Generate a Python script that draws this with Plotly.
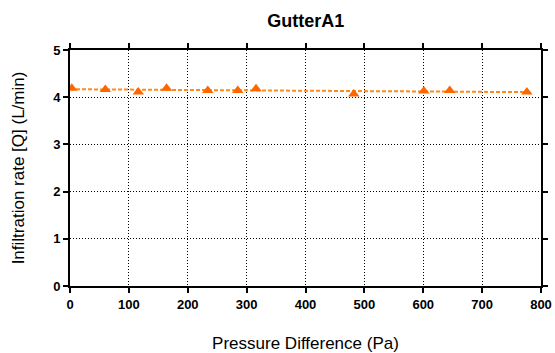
import numpy as np
import plotly.graph_objects as go

pressure = [3, 60, 116, 164, 234, 285, 316, 482, 601, 645, 776]
flow = [4.19, 4.165, 4.11, 4.19, 4.14, 4.14, 4.18, 4.07, 4.13, 4.14, 4.11]

x_ticks = [0, 100, 200, 300, 400, 500, 600, 700, 800]
y_ticks = [0, 1, 2, 3, 4, 5]

slope, intercept = np.polyfit(pressure, flow, 1)
fit_x = [0, max(pressure)]
fit_y = [intercept + slope * v for v in fit_x]

fig = go.Figure()
fig.add_trace(go.Scatter(x=fit_x, y=fit_y, mode="lines",
                         line=dict(color="#FF8C1A", width=2, dash="4px,2px"),
                         showlegend=False, hoverinfo="skip"))
fig.add_trace(go.Scatter(x=pressure, y=flow, mode="markers",
                         marker=dict(symbol="triangle-up", size=10, color="#FF6600"),
                         showlegend=False))

axis_common = dict(showline=True, linecolor="black", linewidth=2, mirror="allticks",
                   ticks="outside", ticklen=5, tickwidth=2, tickcolor="black",
                   showgrid=True, gridcolor="black", griddash="1px,2px", gridwidth=1,
                   zeroline=False, automargin=False,
                   tickfont=dict(family="Liberation Sans", size=13, color="black", weight="bold"))

fig.update_xaxes(range=[0, 800], tickvals=x_ticks, ticktext=[str(v) for v in x_ticks],
                 title=dict(text="Pressure Difference (Pa)", standoff=29,
                            font=dict(family="Liberation Sans", size=17, color="black")),
                 **axis_common)
fig.update_yaxes(range=[0, 5], tickvals=y_ticks, ticktext=[str(v) for v in y_ticks],
                 title=dict(text="Infiltration rate [Q] (L/min)", standoff=24,
                            font=dict(family="Liberation Sans", size=17, color="black")),
                 **axis_common)

fig.update_layout(
    width=555, height=353,
    margin=dict(l=70, r=14, t=50, b=67),
    paper_bgcolor="white", plot_bgcolor="white",
    title=dict(text="<b>GutterA1</b>", x=0.551, xanchor="center", y=0.94, yanchor="middle",
               font=dict(family="Liberation Sans", size=18, color="black")),
)

fig.write_html("out.html")
